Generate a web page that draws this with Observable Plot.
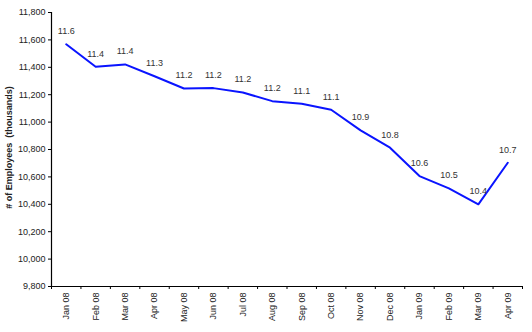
<!DOCTYPE html>
<html>
<head>
<meta charset="utf-8">
<script src="https://cdn.jsdelivr.net/npm/d3@7"></script>
<script src="https://cdn.jsdelivr.net/npm/@observablehq/plot@0.6"></script>
<style>
  html, body { margin: 0; padding: 0; background: #fff; }
  #chart svg { display: block; }
</style>
</head>
<body>
<div id="chart"></div>
<script>
const months = ["Jan 08","Feb 08","Mar 08","Apr 08","May 08","Jun 08","Jul 08","Aug 08","Sep 08","Oct 08","Nov 08","Dec 08","Jan 09","Feb 09","Mar 09","Apr 09"];
const employees = [11568, 11404, 11421, 11335, 11245, 11248, 11216, 11153, 11134, 11090, 10940, 10813, 10606, 10516, 10400, 10703];
const yTicks = [9800, 10000, 10200, 10400, 10600, 10800, 11000, 11200, 11400, 11600, 11800];
const yTitle = "# of Employees  (thousands)";

const data = months.map((m, i) => ({pos: i + 0.5, month: m, value: employees[i]}));
const boundaries = d3.range(months.length + 1);

const chart = Plot.plot({
  width: 532,
  height: 332,
  marginLeft: 51,
  marginRight: 10,
  marginTop: 12,
  marginBottom: 46,
  style: {fontFamily: "'Liberation Sans', Arial, sans-serif", fontSize: "9px", color: "#222", background: "#fff"},
  x: {domain: [0, months.length]},
  y: {domain: [yTicks[0], yTicks[yTicks.length - 1]]},
  marks: [
    Plot.axisY({ticks: yTicks, tickFormat: d3.format(","), tickSize: 3, tickPadding: 3, label: null, stroke: "#000"}),
    Plot.axisX({ticks: boundaries, tickFormat: () => "", tickSize: 3, label: null, stroke: "#000"}),
    Plot.axisX({ticks: data.map(d => d.pos), tickFormat: t => months[Math.floor(t)], tickSize: 0, tickPadding: 6, tickRotate: -90, label: null}),
    Plot.ruleX([0], {stroke: "#000", strokeWidth: 1.2}),
    Plot.ruleY([yTicks[0]], {stroke: "#000", strokeWidth: 1.2}),
    Plot.line(data, {x: "pos", y: "value", stroke: "#0a14ff", strokeWidth: 2}),
    Plot.text(data, {x: "pos", y: "value", text: d => (d.value / 1000).toFixed(1), dy: -13, fill: "#333"}),
    Plot.text([yTitle], {frameAnchor: "left", textAnchor: "middle", dx: -42, dy: -2, rotate: -90, fontWeight: "bold", fill: "#222", fontSize: 9})
  ]
});
document.getElementById("chart").appendChild(chart);
</script>
</body>
</html>
